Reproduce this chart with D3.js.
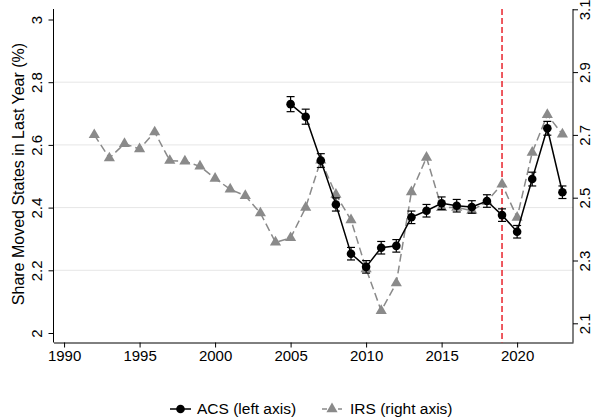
<!DOCTYPE html>
<html>
<head>
<meta charset="utf-8">
<script src="https://cdn.jsdelivr.net/npm/d3@7"></script>
<style>
  html, body { margin: 0; padding: 0; background: #fff; }
  svg { display: block; font-family: Arial, "Liberation Sans", Helvetica, sans-serif; }
</style>
</head>
<body>
<svg id="chart" width="592" height="419"></svg>
<script>
// ACS: share moving states in the last year (%), left axis, with 95% CI half-widths
const acsYears = [2005, 2006, 2007, 2008, 2009, 2010, 2011, 2012, 2013, 2014, 2015, 2016, 2017, 2018, 2019, 2020, 2021, 2022, 2023];
const acsValues = [2.73, 2.69, 2.55, 2.41, 2.253, 2.211, 2.272, 2.278, 2.369, 2.39, 2.414, 2.406, 2.402, 2.421, 2.376, 2.323, 2.491, 2.653, 2.449];
const acsErr = [0.024, 0.024, 0.022, 0.021, 0.02, 0.02, 0.02, 0.02, 0.02, 0.02, 0.02, 0.02, 0.02, 0.02, 0.02, 0.02, 0.022, 0.022, 0.02];

// IRS migration rate (%), right axis
const irsYears = [1992, 1993, 1994, 1995, 1996, 1997, 1998, 1999, 2000, 2001, 2002, 2003, 2004, 2005, 2006, 2007, 2008, 2009, 2010, 2011, 2012, 2013, 2014, 2015, 2016, 2017, 2018, 2019, 2020, 2021, 2022, 2023];
const irsValues = [2.700, 2.626, 2.672, 2.655, 2.709, 2.618, 2.616, 2.600, 2.561, 2.527, 2.506, 2.451, 2.358, 2.372, 2.469, 2.619, 2.510, 2.429, 2.273, 2.140, 2.228, 2.518, 2.628, 2.468, 2.469, 2.459, 2.488, 2.543, 2.437, 2.644, 2.764, 2.702];

// Axis ticks and reference year
const xTicks = [1990, 1995, 2000, 2005, 2010, 2015, 2020];
const leftTicks = [2, 2.2, 2.4, 2.6, 2.8, 3];
const rightTicks = [2.1, 2.3, 2.5, 2.7, 2.9, 3.1];
const refYear = 2019;
const yTitle = "Share Moved States in Last Year (%)";
const legendLabels = ["ACS (left axis)", "IRS (right axis)"];

const svg = d3.select("#chart");
const plot = { left: 53.5, right: 573, top: 9, bottom: 342.5 };

const x = d3.scaleLinear().domain([1989.3, 2023.7]).range([plot.left, plot.right]);
const yL = d3.scaleLinear().domain([2, 3]).range([333, 19.5]);
const yR = d3.scaleLinear().domain([2.1, 3.1]).range([323.3, 9.3]);

const grey = "#8a8a8a";
const axisColor = "#000";

// gridlines at interior left-axis ticks
svg.append("g").selectAll("line")
  .data(leftTicks.slice(1, -1))
  .join("line")
  .attr("x1", plot.left).attr("x2", plot.right)
  .attr("y1", d => yL(d)).attr("y2", d => yL(d))
  .attr("stroke", "#e6e6e6").attr("stroke-width", 1);

// axes
const fmt = d => String(+d.toFixed(1));

const gx = svg.append("g").attr("transform", `translate(0,${plot.bottom})`)
  .call(d3.axisBottom(x).tickValues(xTicks).tickFormat(d3.format("d")).tickSize(5).tickSizeOuter(0));
gx.select(".domain").attr("stroke", axisColor);
gx.selectAll(".tick line").attr("stroke", axisColor);
gx.selectAll(".tick text").attr("font-size", 15).attr("fill", "#000").attr("y", 8).attr("dy", "0.71em");

const gl = svg.append("g").attr("transform", `translate(${plot.left},0)`)
  .call(d3.axisLeft(yL).tickValues(leftTicks).tickFormat(fmt).tickSize(5).tickSizeOuter(0));
gl.select(".domain").attr("d", `M0,${plot.top}V${plot.bottom}`).attr("stroke", axisColor);
gl.selectAll(".tick line").attr("stroke", axisColor);
gl.selectAll(".tick text")
  .attr("font-size", 15).attr("fill", "#000")
  .attr("transform", "rotate(-90)")
  .attr("x", 0).attr("y", -17).attr("dy", "0.35em")
  .attr("text-anchor", "middle");

const gr = svg.append("g").attr("transform", `translate(${plot.right},0)`)
  .call(d3.axisRight(yR).tickValues(rightTicks).tickFormat(fmt).tickSize(5).tickSizeOuter(0));
gr.select(".domain").attr("d", `M0,${plot.top}V${plot.bottom}`).attr("stroke", axisColor);
gr.selectAll(".tick line").attr("stroke", axisColor);
gr.selectAll(".tick text")
  .attr("font-size", 15).attr("fill", "#000")
  .attr("transform", "rotate(-90)")
  .attr("x", 0).attr("y", 12).attr("dy", "0.35em")
  .attr("text-anchor", "middle");

// y axis title
svg.append("text")
  .attr("transform", "translate(18,174) rotate(-90)")
  .attr("text-anchor", "middle").attr("dy", "0.35em")
  .attr("font-size", 16).attr("fill", "#000")
  .text(yTitle);

// reference year
svg.append("line")
  .attr("x1", x(refYear)).attr("x2", x(refYear))
  .attr("y1", plot.top).attr("y2", plot.bottom)
  .attr("stroke", "#e8242c").attr("stroke-width", 1.5)
  .attr("stroke-dasharray", "6,3");

// IRS series (right axis)
const irs = irsYears.map((yr, i) => ({ yr, v: irsValues[i] }));
const tri = d3.symbol().type(d3.symbolTriangle).size(54);

svg.append("path")
  .datum(irs)
  .attr("fill", "none").attr("stroke", grey).attr("stroke-width", 1.5)
  .attr("stroke-dasharray", "8,4")
  .attr("d", d3.line().x(d => x(d.yr)).y(d => yR(d.v)));

svg.append("g").selectAll("path")
  .data(irs)
  .join("path")
  .attr("transform", d => `translate(${x(d.yr)},${yR(d.v)})`)
  .attr("d", tri)
  .attr("fill", grey);

// ACS series (left axis)
const acs = acsYears.map((yr, i) => ({ yr, v: acsValues[i], e: acsErr[i] }));

svg.append("path")
  .datum(acs)
  .attr("fill", "none").attr("stroke", "#000").attr("stroke-width", 1.5)
  .attr("d", d3.line().x(d => x(d.yr)).y(d => yL(d.v)));

const eb = svg.append("g").attr("stroke", "#000").attr("stroke-width", 1.2);
eb.selectAll("line.v").data(acs).join("line").attr("class", "v")
  .attr("x1", d => x(d.yr)).attr("x2", d => x(d.yr))
  .attr("y1", d => yL(d.v - d.e)).attr("y2", d => yL(d.v + d.e));
eb.selectAll("line.lo").data(acs).join("line").attr("class", "lo")
  .attr("x1", d => x(d.yr) - 4).attr("x2", d => x(d.yr) + 4)
  .attr("y1", d => yL(d.v - d.e)).attr("y2", d => yL(d.v - d.e));
eb.selectAll("line.hi").data(acs).join("line").attr("class", "hi")
  .attr("x1", d => x(d.yr) - 4).attr("x2", d => x(d.yr) + 4)
  .attr("y1", d => yL(d.v + d.e)).attr("y2", d => yL(d.v + d.e));

svg.append("g").selectAll("circle")
  .data(acs)
  .join("circle")
  .attr("cx", d => x(d.yr)).attr("cy", d => yL(d.v))
  .attr("r", 4.3).attr("fill", "#000");

// legend
const leg = svg.append("g").attr("transform", "translate(0,409)");
const l1 = leg.append("g").attr("transform", "translate(170,0)");
l1.append("line").attr("x1", 0).attr("x2", 21).attr("stroke", "#000").attr("stroke-width", 1.5);
l1.append("circle").attr("cx", 10.5).attr("r", 4.3).attr("fill", "#000");
l1.append("text").attr("x", 27).attr("dy", "0.35em").attr("font-size", 15.5).text(legendLabels[0]);

const l2 = leg.append("g").attr("transform", "translate(322,0)");
l2.append("line").attr("x1", 0).attr("x2", 20).attr("stroke", grey).attr("stroke-width", 1.5).attr("stroke-dasharray", "5,3");
l2.append("path").attr("transform", "translate(10,0)").attr("d", tri).attr("fill", grey);
l2.append("text").attr("x", 28).attr("dy", "0.35em").attr("font-size", 15.5).text(legendLabels[1]);
</script>
</body>
</html>
